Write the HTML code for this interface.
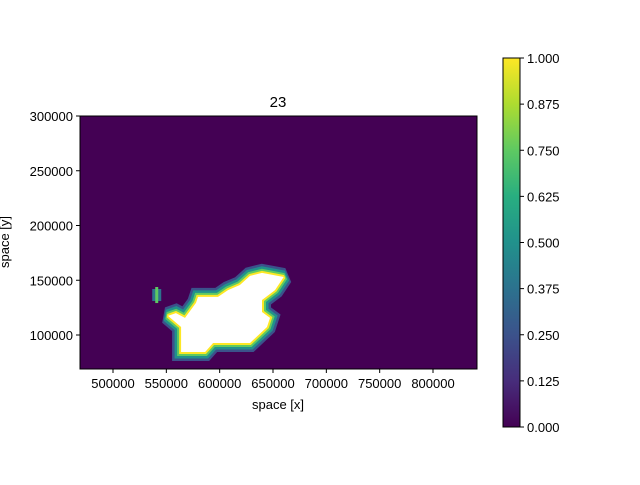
<!DOCTYPE html>
<html><head><meta charset="utf-8"><style>
body{margin:0;background:#fff}
svg text{font-family:"Liberation Sans","DejaVu Sans",sans-serif;font-size:13px;fill:#000}
</style></head><body>
<svg width="640" height="480" viewBox="0 0 640 480">
<defs>
<linearGradient id="vir" x1="0" y1="1" x2="0" y2="0">
<stop offset="0" stop-color="#440154"/><stop offset="0.125" stop-color="#472d7b"/>
<stop offset="0.25" stop-color="#3b528b"/><stop offset="0.375" stop-color="#2c728e"/>
<stop offset="0.5" stop-color="#21918c"/><stop offset="0.625" stop-color="#28ae80"/>
<stop offset="0.75" stop-color="#5ec962"/><stop offset="0.875" stop-color="#addc30"/>
<stop offset="1" stop-color="#fde725"/></linearGradient>
<clipPath id="pc"><rect x="80" y="116" width="397" height="253"/></clipPath>
</defs>
<rect x="80" y="116" width="397" height="253" fill="#440154"/>
<g id="marks" clip-path="url(#pc)"></g>
<rect x="80" y="116" width="397" height="253" fill="none" stroke="#000" stroke-width="1"/>
<g id="axes"></g>
<text x="278" y="107" text-anchor="middle" style="font-size:15px">23</text>
<text x="278" y="409" text-anchor="middle">space [x]</text>
<text transform="translate(9,242) rotate(-90)" text-anchor="middle">space [y]</text>
<rect x="503" y="58" width="17" height="369" fill="url(#vir)" stroke="#000" stroke-width="1"/>
<g id="cbar"></g>
</svg>
<script>
const xTicks=[500000,550000,600000,650000,700000,750000,800000];
const yTicks=[100000,150000,200000,250000,300000];
const cTicks=[0,0.125,0.25,0.375,0.5,0.625,0.75,0.875,1.0];
const blobX=[563.8,563.8,551.6,559,567.5,577.8,579.7,598.4,607.8,619,628.4,639.7,660,651.9,639.7,639.7,647.2,644.4,628.4,593.8,586.3];
const blobY=[84.5,107.3,117.4,120,115.6,129.3,134.8,134.8,141,145.7,154,156.7,153,141,132,121,115.6,107.3,92.7,92.7,84.5];
const islandX=[541,541];
const islandY=[131,142];
const X=v=>113+(v-500000)*106.67/100000;
const Y=v=>116+(300000-v)*1.095/1000;
const Xk=v=>X(v*1000), Yk=v=>Y(v*1000);
const C=v=>427-v*369;
const NS='http://www.w3.org/2000/svg';
function mk(t,a,p){const e=document.createElementNS(NS,t);for(const k in a)e.setAttribute(k,a[k]);p.appendChild(e);return e;}
const marks=document.getElementById('marks'),axes=document.getElementById('axes'),cb=document.getElementById('cbar');
const pts=blobX.map((x,i)=>Xk(x).toFixed(1)+','+Yk(blobY[i]).toFixed(1)).join(' ');
const layers=[['#3b528b',18],['#21918c',13],['#5ec962',8],['#fde725',4]];
layers.forEach(([c,w])=>{
const p=mk('polygon',{points:pts,fill:c,stroke:c,'stroke-width':w,'stroke-linejoin':'miter','stroke-miterlimit':1.5},marks);


});
const isl=mk('line',{x1:Xk(islandX[0]),y1:Yk(islandY[0]),x2:Xk(islandX[1]),y2:Yk(islandY[1]),stroke:'#2c728e','stroke-width':9},marks);


const isl2=mk('line',{x1:Xk(islandX[0]),y1:Yk(islandY[0])+2,x2:Xk(islandX[1]),y2:Yk(islandY[1])-2,stroke:'#5ec962','stroke-width':3},marks);


const wp=mk('polygon',{points:pts,fill:'#fff'},marks);


xTicks.forEach(v=>{const x=X(v);mk('line',{x1:x,x2:x,y1:369,y2:373,stroke:'#000'},axes);
const t=mk('text',{x:x,y:388,'text-anchor':'middle'},axes);t.textContent=v;

});
yTicks.forEach(v=>{const y=Y(v);mk('line',{x1:76,x2:80,y1:y,y2:y,stroke:'#000'},axes);
const t=mk('text',{x:73,y:y+5,'text-anchor':'end'},axes);t.textContent=v;

});
cTicks.forEach(v=>{const y=C(v);mk('line',{x1:520,x2:524,y1:y,y2:y,stroke:'#000'},cb);
const t=mk('text',{x:527,y:y+5},cb);t.textContent=v.toFixed(3);

});
</script>
</body></html>
